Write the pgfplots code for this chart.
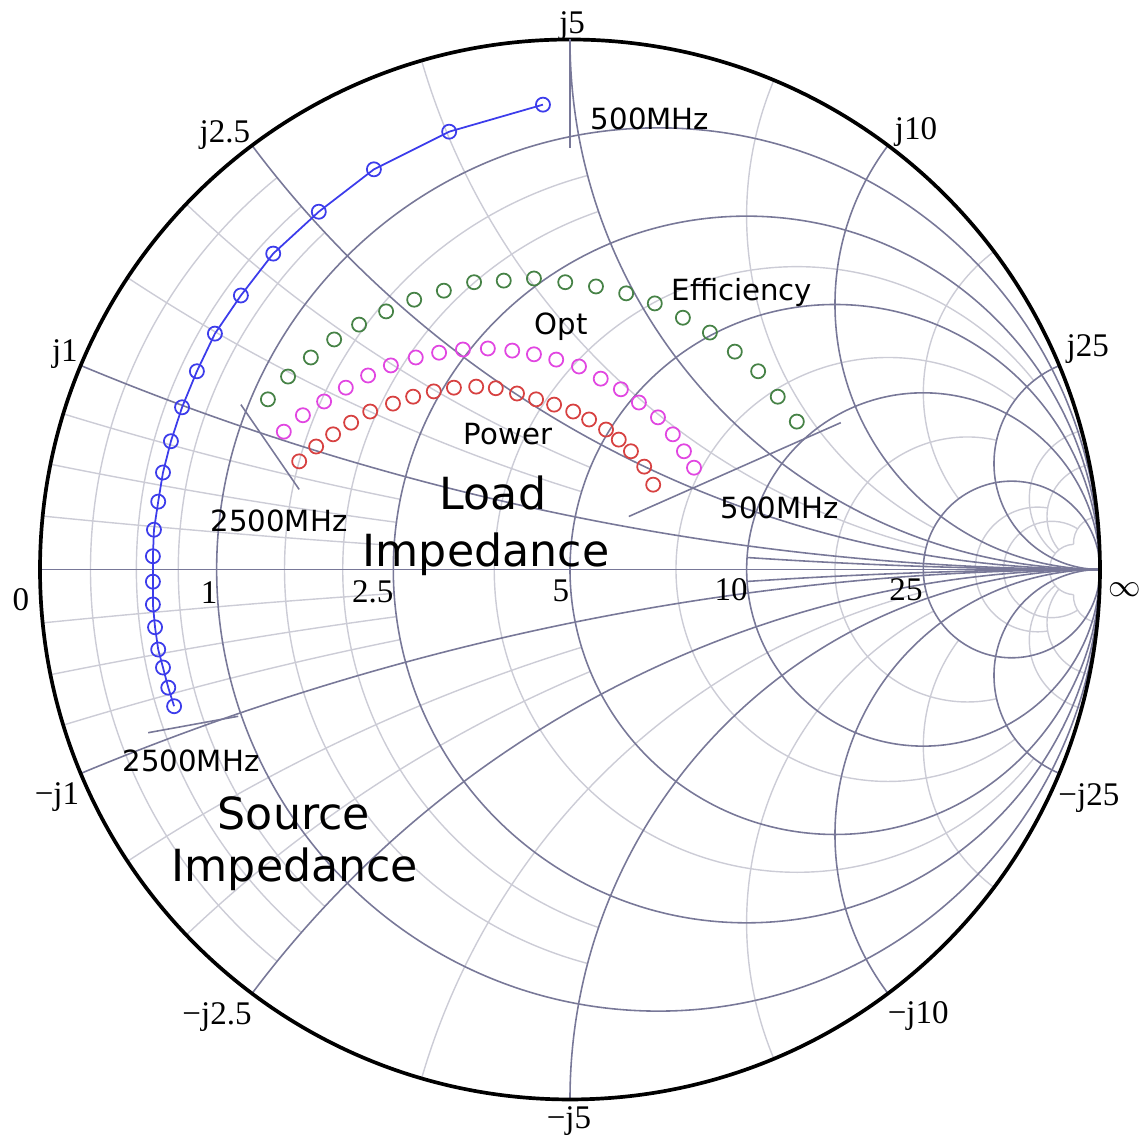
\documentclass[border=0pt]{standalone}
\usepackage{pgfplots}
\pgfplotsset{compat=1.18}
\usepackage{fontspec}
\setmainfont{Liberation Serif}
\newfontfamily\annot{DejaVu Sans}
\definecolor{gmaj}{RGB}{120,120,152}
\definecolor{gmin}{RGB}{204,204,214}
\definecolor{cblue}{RGB}{60,60,235}
\definecolor{cgreen}{RGB}{70,130,70}
\definecolor{cmag}{RGB}{225,70,225}
\definecolor{cred}{RGB}{215,65,65}
\tikzset{major/.style={draw=gmaj,line width=0.45pt},minor/.style={draw=gmin,line width=0.4pt}}
\newcommand\rcirc[2]{%
 \pgfmathsetmacro\cc{#1/(1+#1)}\pgfmathsetmacro\rr{1/(1+#1)}%
 \draw[#2] (\cc,0) circle[radius=\rr];}
\newcommand\rarc[3]{%
 \pgfmathsetmacro\cc{#1/(1+#1)}\pgfmathsetmacro\rr{1/(1+#1)}\pgfmathsetmacro\aa{2*atan(#2/(1+#1))}%
 \pgfmathsetmacro\sa{180-\aa}\pgfmathsetmacro\ea{180+\aa}%
 \draw[#3] (\cc,0) ++(\sa:\rr) arc[start angle=\sa, end angle=\ea, radius=\rr];}
\newcommand\xarc[4]{%
 \pgfmathsetmacro\cy{1/#1}%
 \pgfmathsetmacro\pa{-90-2*atan(#1/(1+#2))}\pgfmathsetmacro\pb{-90-2*atan(#1/(1+#3))}%
 \pgfmathsetmacro\qa{90+2*atan(#1/(1+#2))}\pgfmathsetmacro\qb{90+2*atan(#1/(1+#3))}%
 \draw[#4] (1,\cy) ++(\pa:\cy) arc[start angle=\pa, end angle=\pb, radius=\cy];
 \draw[#4] (1,-\cy) ++(\qa:\cy) arc[start angle=\qa, end angle=\qb, radius=\cy];}
\begin{document}
\begin{tikzpicture}[x=5.3cm,y=5.3cm]
\useasboundingbox (-1.0755,-1.0745) rectangle (1.0755,1.0745);
% minor grid
\foreach \r in {0.05,0.1,0.15}{\rarc{\r}{0.5}{minor}}
\foreach \r in {0.3,0.4}{\rarc{\r}{1}{minor}}
\foreach \r in {0.75,1.5,3}{\rarc{\r}{5}{minor}}
\rarc{7.5}{10}{minor}
\rarc{10}{20}{minor}
\rarc{20}{20}{minor}
\foreach \x in {0.05,0.1,0.15}{\xarc{\x}{0}{0.5}{minor}}
\foreach \x in {0.3,0.4}{\xarc{\x}{0}{1}{minor}}
\foreach \x in {0.75,1.5,3}{\xarc{\x}{0}{5}{minor}}
\foreach \x in {7.5,10,20}{\xarc{\x}{0}{20}{minor}}
% major grid
\draw[major] (-1,0) -- (1,0);
\foreach \r in {0.2,0.5,1,2,5}{\rcirc{\r}{major}}
\foreach \x in {0.2,0.5,1,2,5}{\xarc{\x}{0}{10000}{major}}
\xarc{0.1}{2}{10000}{major}
\draw[black,line width=1.05pt] (0,0) circle[radius=1];
% tick labels
\begin{scope}[every node/.style={font=\fontsize{9.4}{11}\selectfont,inner sep=0pt}]
\node at (-1.036,-0.057) {0};
\node at (1.047,-0.038) {$\infty$};
\node at (-0.681,-0.043) {1};
\node at (-0.372,-0.043) {2.5};
\node at (-0.017,-0.040) {5};
\node at (0.304,-0.038) {10};
\node at (0.634,-0.038) {25};
\node at (0.004,1.025) {j5};
\node at (0.653,0.825) {j10};
\node at (0.977,0.415) {j25};
\node at (-0.651,0.819) {j2.5};
\node at (-0.953,0.406) {j1};
\node at (-0.968,-0.430) {−j1};
\node at (-0.666,-0.845) {−j2.5};
\node at (-0.002,-1.040) {−j5};
\node at (0.657,-0.843) {−j10};
\node at (0.979,-0.432) {−j25};
\end{scope}
% annotations
\begin{scope}[every node/.style={font=\annot\fontsize{8.3}{10}\selectfont,inner sep=0pt}]
\node at (0.151,0.851) {500MHz};
\node at (0.3245,0.5226) {Efficiency};
\node at (-0.017,0.458) {Opt};
\node at (-0.117,0.255) {Power};
\node at (-0.549,0.092) {2500MHz};
\node at (0.396,0.117) {500MHz};
\node at (-0.715,-0.362) {2500MHz};
\end{scope}
\begin{scope}[every node/.style={font=\annot\fontsize{12.6}{15}\selectfont,inner sep=0pt}]
\node[anchor=base] at (-0.1453,0.1132) {Load};
\node[anchor=base] at (-0.1585,0.0057) {Impedance};
\node[anchor=base] at (-0.521,-0.491) {Source};
\node[anchor=base] at (-0.519,-0.589) {Impedance};
\end{scope}
\begin{axis}[at={(0,0)},anchor=center,scale only axis,width=11.40cm,height=11.39cm,
  xmin=-1.0755,xmax=1.0755,ymin=-1.0745,ymax=1.0745,hide axis,clip=false]
% frequency marker lines
\addplot[gmaj,line width=0.45pt] coordinates {(0,1.0) (0,0.796)};
\addplot[gmaj,line width=0.45pt] coordinates {(-0.621,0.311) (-0.511,0.151)};
\addplot[gmaj,line width=0.45pt] coordinates {(0.111,0.100) (0.511,0.277)};
\addplot[gmaj,line width=0.45pt] coordinates {(-0.796,-0.308) (-0.626,-0.277)};
% source impedance
\addplot[cblue,line width=0.5pt,mark=o,mark size=2pt,mark options={line width=0.5pt}] coordinates {
(-0.747,-0.258) (-0.758,-0.223) (-0.768,-0.185) (-0.777,-0.151) (-0.783,-0.109)
(-0.787,-0.066) (-0.787,-0.023) (-0.787,0.025) (-0.785,0.075) (-0.777,0.128)
(-0.768,0.183) (-0.753,0.242) (-0.732,0.306) (-0.704,0.374) (-0.670,0.445)
(-0.621,0.517) (-0.560,0.596) (-0.474,0.675) (-0.370,0.755) (-0.228,0.826)
(-0.051,0.877)};
% efficiency
\addplot[cgreen,only marks,mark=o,mark size=2pt,mark options={line width=0.5pt}] coordinates {
(-0.570,0.321) (-0.532,0.364) (-0.489,0.400) (-0.445,0.434) (-0.398,0.462)
(-0.347,0.487) (-0.294,0.509) (-0.238,0.526) (-0.181,0.542) (-0.125,0.545)
(-0.068,0.549) (-0.009,0.542) (0.049,0.534) (0.106,0.521) (0.160,0.502)
(0.213,0.475) (0.264,0.447) (0.311,0.411) (0.355,0.374) (0.392,0.326)
(0.428,0.279)};
% opt
\addplot[cmag,only marks,mark=o,mark size=2pt,mark options={line width=0.5pt}] coordinates {
(-0.540,0.260) (-0.504,0.291) (-0.464,0.317) (-0.423,0.343) (-0.381,0.366)
(-0.338,0.385) (-0.291,0.400) (-0.247,0.409) (-0.202,0.415) (-0.155,0.417)
(-0.109,0.413) (-0.068,0.406) (-0.026,0.396) (0.017,0.383) (0.058,0.360)
(0.096,0.340) (0.130,0.315) (0.166,0.287) (0.194,0.255) (0.215,0.223)
(0.234,0.192)};
% power
\addplot[cred,only marks,mark=o,mark size=2pt,mark options={line width=0.5pt}] coordinates {
(-0.511,0.204) (-0.479,0.232) (-0.447,0.255) (-0.413,0.277) (-0.377,0.298)
(-0.334,0.313) (-0.296,0.326) (-0.257,0.336) (-0.219,0.343) (-0.177,0.345)
(-0.140,0.342) (-0.100,0.332) (-0.064,0.321) (-0.030,0.311) (0.006,0.298)
(0.036,0.283) (0.068,0.264) (0.092,0.245) (0.115,0.223) (0.140,0.194)
(0.157,0.160)};
\end{axis}
\end{tikzpicture}
\end{document}
